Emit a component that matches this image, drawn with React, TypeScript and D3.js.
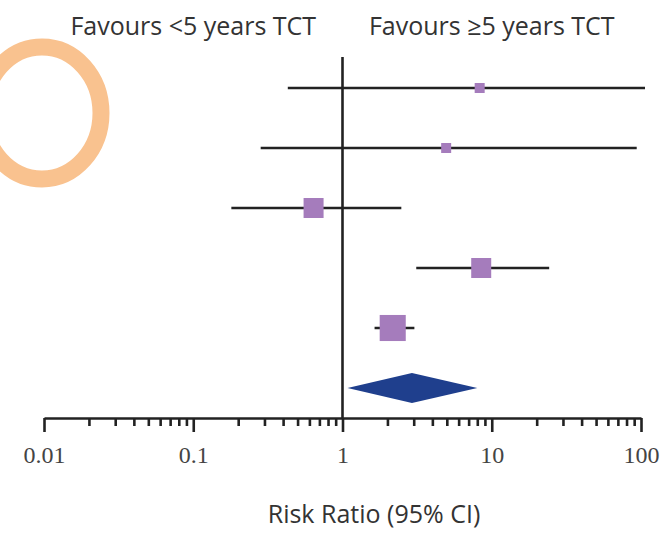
import { useRef, useEffect } from 'react';
import * as d3 from 'd3';

// rows from top to bottom (labels are cropped off in the source)
const studies = ['Study 1', 'Study 2', 'Study 3', 'Study 4', 'Study 5'];
const riskRatio = [8.3, 4.95, 0.64, 8.5, 2.17];
const ciLow = [0.43, 0.283, 0.18, 3.12, 1.64];
const ciHigh = [100, 88, 2.33, 22.8, 2.85];
const weight = [1, 1, 4, 4, 6.8];
const pooled = { est: 2.92, low: 1.08, high: 8.0 };
const majorTicks = [0.01, 0.1, 1, 10, 100];
const tickLabels = ['0.01', '0.1', '1', '10', '100'];

const W = 667;
const H = 533;
const FONT = '"Open Sans", "DejaVu Sans", sans-serif';
const TICK_FONT = '"Liberation Serif", serif';

export default function App() {
  const axisRef = useRef<SVGGElement>(null);

  const x = d3.scaleLog().domain([0.01, 100]).range([44, 641]);
  const y = d3.scalePoint<string>().domain([...studies, 'Overall']).range([88, 388]);
  const axisY = 418;

  useEffect(() => {
    const g = d3.select(axisRef.current);
    g.selectAll('*').remove();

    const minor = d3.range(-2, 2).flatMap((e) => d3.range(2, 10).map((m) => m * Math.pow(10, e)));

    g.append('g')
      .call(d3.axisBottom(x).tickValues(minor).tickSize(8).tickSizeOuter(0).tickFormat(() => ''))
      .call((s) => s.select('.domain').remove());

    g.append('g')
      .call(
        d3
          .axisBottom(x)
          .tickValues(majorTicks)
          .tickSize(14)
          .tickSizeOuter(0)
          .tickPadding(14)
          .tickFormat((d, i) => tickLabels[i])
      );

    g.selectAll('line, path').attr('stroke', '#222').attr('stroke-width', 2.6);
    g.selectAll('text')
      .attr('font-family', TICK_FONT)
      .attr('font-size', 24)
      .attr('fill', '#444');
  }, []);

  return (
    <svg width={W} height={H} style={{ position: 'absolute', left: 0, top: 0, background: '#fff' }}>
      <rect width={W} height={H} fill="#fff" />

      <text x={x(0.1)} y={35} textAnchor="middle" fontFamily={FONT} fontSize={25} fontWeight={500} fill="#333">
        Favours &lt;5 years TCT
      </text>
      <text x={x(10)} y={35} textAnchor="middle" fontFamily={FONT} fontSize={25} fontWeight={500} fill="#333">
        Favours ≥5 years TCT
      </text>

      {/* line of no effect */}
      <line x1={x(1)} x2={x(1)} y1={57} y2={axisY} stroke="#222" strokeWidth={2.6} />

      {studies.map((s, i) => {
        const size = 10 * Math.sqrt(weight[i]);
        const cy = y(s)!;
        return (
          <g key={s}>
            <line x1={x(ciLow[i])} x2={x(ciHigh[i]) + 4} y1={cy} y2={cy} stroke="#222" strokeWidth={2.6} />
            <rect
              x={x(riskRatio[i]) - size / 2}
              y={cy - size / 2}
              width={size}
              height={size}
              fill="#a57cbc"
            />
          </g>
        );
      })}

      <path
        d={`M${x(pooled.low)},${y('Overall')} L${x(pooled.est)},${y('Overall')! - 15} L${x(pooled.high)},${y(
          'Overall'
        )} L${x(pooled.est)},${y('Overall')! + 15} Z`}
        fill="#1f3f8d"
      />

      <g ref={axisRef} transform={`translate(0,${axisY})`} />

      <text x={374} y={523} textAnchor="middle" fontFamily={FONT} fontSize={25} fontWeight={500} fill="#333">
        Risk Ratio (95% CI)
      </text>

      {/* annotation ring from the source image */}
      <ellipse cx={42} cy={113} rx={59} ry={66} fill="none" stroke="#f9c28f" strokeWidth={17} />
    </svg>
  );
}
